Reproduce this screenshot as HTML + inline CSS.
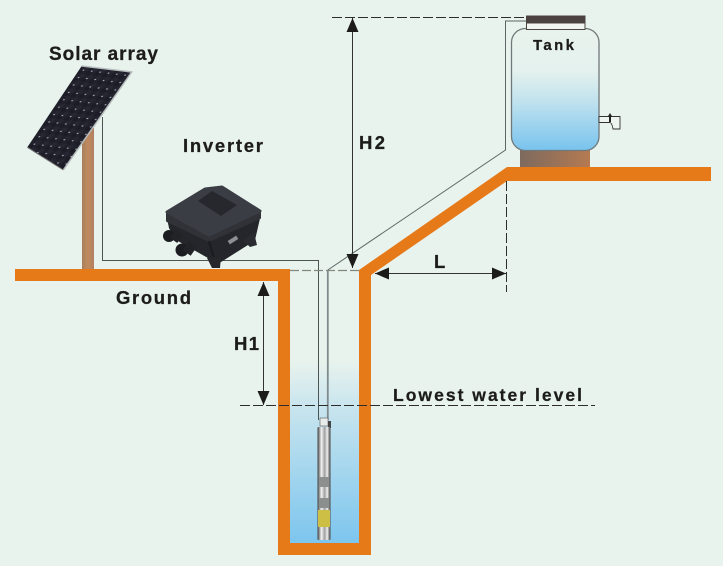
<!DOCTYPE html>
<html><head><meta charset="utf-8"><style>html,body{margin:0;padding:0;background:#e9f3ed}svg{display:block}text{font-family:"Liberation Sans",sans-serif;font-weight:bold;fill:#1c1c1a;stroke:#1c1c1a;stroke-width:.25px}</style></head>
<body>
<svg width="723" height="566" viewBox="0 0 723 566" xmlns="http://www.w3.org/2000/svg">
<defs>
<linearGradient id="w" x1="0" y1="0" x2="0" y2="1"><stop offset="0" stop-color="#e9f3ed"/><stop offset="0.25" stop-color="#c9e5ee"/><stop offset="1" stop-color="#7cc5ee"/></linearGradient>
<linearGradient id="t" x1="0" y1="0" x2="0" y2="1"><stop offset="0" stop-color="#e9f3ed"/><stop offset="0.35" stop-color="#e4f1ee"/><stop offset="0.6" stop-color="#c0e2ee"/><stop offset="1" stop-color="#78c3ee"/></linearGradient>
<linearGradient id="s" x1="0" y1="0" x2="1" y2="0"><stop offset="0" stop-color="#7d6a5e"/><stop offset="1" stop-color="#b57a52"/></linearGradient>
<linearGradient id="p" x1="0" y1="0" x2="1" y2="0"><stop offset="0" stop-color="#a8805f"/><stop offset="0.5" stop-color="#c08a5e"/><stop offset="1" stop-color="#b08062"/></linearGradient>
<linearGradient id="m" x1="0" y1="0" x2="1" y2="0"><stop offset="0" stop-color="#3a3a3a"/><stop offset="0.3" stop-color="#f4f4f4"/><stop offset="0.55" stop-color="#a0a0a0"/><stop offset="0.75" stop-color="#eee"/><stop offset="1" stop-color="#3a3a3a"/></linearGradient>
<marker id="a" viewBox="0 0 14 12" refX="14" refY="6" markerWidth="14" markerHeight="12" orient="auto-start-reverse" markerUnits="userSpaceOnUse"><path d="M0 0L14 6L0 12z" fill="#1c1c1a"/></marker>
<pattern id="c" width="1" height="1" patternUnits="userSpaceOnUse" patternTransform="matrix(8.33 1 -4.9 7.4 81.7 66)"><rect width="1" height="1" fill="#20212b"/><rect x="0.5" y="0" width="0.5" height="0.5" fill="#262733"/><rect x="0" y="0.5" width="0.5" height="0.5" fill="#1b1c25"/><ellipse cx="0.5" cy="0.5" rx="0.11" ry="0.08" fill="#aeb2bc"/></pattern>
</defs>
<rect width="723" height="566" fill="#e9f3ed"/>

<!-- pole -->
<rect x="82" y="128" width="12" height="142" fill="url(#p)"/>
<!-- solar panel -->
<polygon points="81.7,66 131.7,72 63.3,170 27.3,147.3" fill="url(#c)"/>
<path d="M81.7,66L131.7,72L63.3,170" fill="none" stroke="#b7bdbd" stroke-width="1.500"/>
<path d="M63.3,170L27.3,147.3" fill="none" stroke="#777" stroke-width="1"/>

<!-- water -->
<rect x="290" y="360" width="69" height="184" fill="url(#w)"/>

<!-- tank -->
<rect x="520" y="150" width="70" height="18" fill="url(#s)"/>
<rect x="511.500" y="28.500" width="87.500" height="122" rx="14" fill="url(#t)" stroke="#70787a" stroke-width="1.300"/>
<rect x="526.500" y="16" width="58.500" height="13.500" fill="#f0f5f0" stroke="#4a4542" stroke-width="1"/>
<rect x="526" y="16" width="59" height="7.500" fill="#4a4240"/>
<path d="M599 116.500h21v12.500h-7q-1-6-3-6.500h-11z" fill="#eef4ef" stroke="#333" stroke-width="0.900" stroke-linejoin="round"/>
<path d="M610 113l2.500 4h-1.500v5h-2v-5h-1.500z" fill="#222"/>

<!-- orange structure -->
<path d="M15 269H290V543H359V270L507 167H711V181H507L371 275V555H278V281H15z" fill="#e67a19"/>

<!-- wires -->
<path d="M102.500 117V260.500H318.500V420" fill="none" stroke="#4c5553" stroke-width="1"/>
<path d="M327.800 270L505.500 150V21H526" fill="none" stroke="#5c6665" stroke-width="1"/>
<path d="M327.800 270V420" fill="none" stroke="#7f8b8c" stroke-width="1.800"/>

<!-- dashed lines -->
<path d="M332 17.500H526" stroke="#2c2c2a" stroke-width="1" stroke-dasharray="10 3" fill="none"/>
<path d="M290 270.500H359" stroke="#80887f" stroke-width="1.200" stroke-dasharray="9 3" fill="none"/>
<path d="M506.500 181V292" stroke="#2c2c2a" stroke-width="1" stroke-dasharray="10 3" fill="none"/>
<path d="M240 405.500H595" stroke="#2c2c2a" stroke-width="1" stroke-dasharray="10 3" fill="none"/>

<!-- dimension arrows -->
<path d="M352.500 18V268" stroke="#333" stroke-width="1" fill="none" marker-start="url(#a)" marker-end="url(#a)"/>
<path d="M263.500 282V405" stroke="#333" stroke-width="1" fill="none" marker-start="url(#a)" marker-end="url(#a)"/>
<path d="M375 273.500H506" stroke="#333" stroke-width="1" fill="none" marker-start="url(#a)" marker-end="url(#a)"/>

<!-- inverter -->
<polygon points="168,218 209,240 260,214 254,240 216,264 210,258 178,240 170,228" fill="#25262b" stroke="#25262b" stroke-width="2" stroke-linejoin="round"/>
<polygon points="167,213 205,189 222,187 260,212 260,218 209,241 167,221" fill="#303238" stroke="#303238" stroke-width="2" stroke-linejoin="round"/>
<polygon points="167,212 205,189 222,187 260,211 209,235" fill="#3b3d44" stroke="#3b3d44" stroke-width="3" stroke-linejoin="round"/>
<polygon points="198,201 212,191 237,205 221,216" fill="#26282e"/>
<line x1="209" y1="241" x2="215" y2="262" stroke="#1a1b1f" stroke-width="2"/>
<circle cx="169" cy="236" r="6" fill="#1c1d21"/>
<rect x="172" y="231" width="9" height="10" fill="#222327" transform="rotate(35 176 236)"/>
<circle cx="182" cy="250" r="6.500" fill="#1c1d21"/>
<rect x="185" y="243" width="10" height="11" fill="#222327" transform="rotate(35 190 248)"/>
<polygon points="207,258 221,256 220,268 212,268" fill="#26272b"/>
<polygon points="243,240 254,233 257,245 250,247" fill="#2a2b30"/>
<rect x="228" y="238" width="10" height="4" fill="#8d8f93" transform="rotate(-32 233 240)"/>

<!-- pump -->
<rect x="320" y="418" width="8" height="8" fill="#e8ecea" stroke="#555" stroke-width="0.600"/>
<rect x="328" y="421" width="3" height="7" fill="#444"/>
<rect x="317.500" y="427" width="13" height="113" rx="1" fill="url(#m)"/>
<rect x="319" y="477" width="10" height="10" fill="#8b8f8d"/>
<rect x="319" y="498" width="10" height="10" fill="#8b8f8d"/>
<rect x="318" y="510" width="12" height="17" fill="#cdbf45"/>

<!-- labels -->
<text x="49" y="60" font-size="19" textLength="109" lengthAdjust="spacing">Solar array</text>
<text x="183" y="152" font-size="18.500" textLength="80" lengthAdjust="spacing">Inverter</text>
<text x="359" y="149" font-size="18.500" textLength="26" lengthAdjust="spacing">H2</text>
<text x="533" y="50" font-size="15" textLength="41" lengthAdjust="spacing">Tank</text>
<text x="116" y="304" font-size="18.500" textLength="75" lengthAdjust="spacing">Ground</text>
<text x="234" y="350" font-size="18.500" textLength="25" lengthAdjust="spacing">H1</text>
<text x="434" y="268" font-size="18.500" textLength="10" lengthAdjust="spacing">L</text>
<text x="393" y="401" font-size="17.500" textLength="189" lengthAdjust="spacing">Lowest water level</text>
</svg>
</body></html>
